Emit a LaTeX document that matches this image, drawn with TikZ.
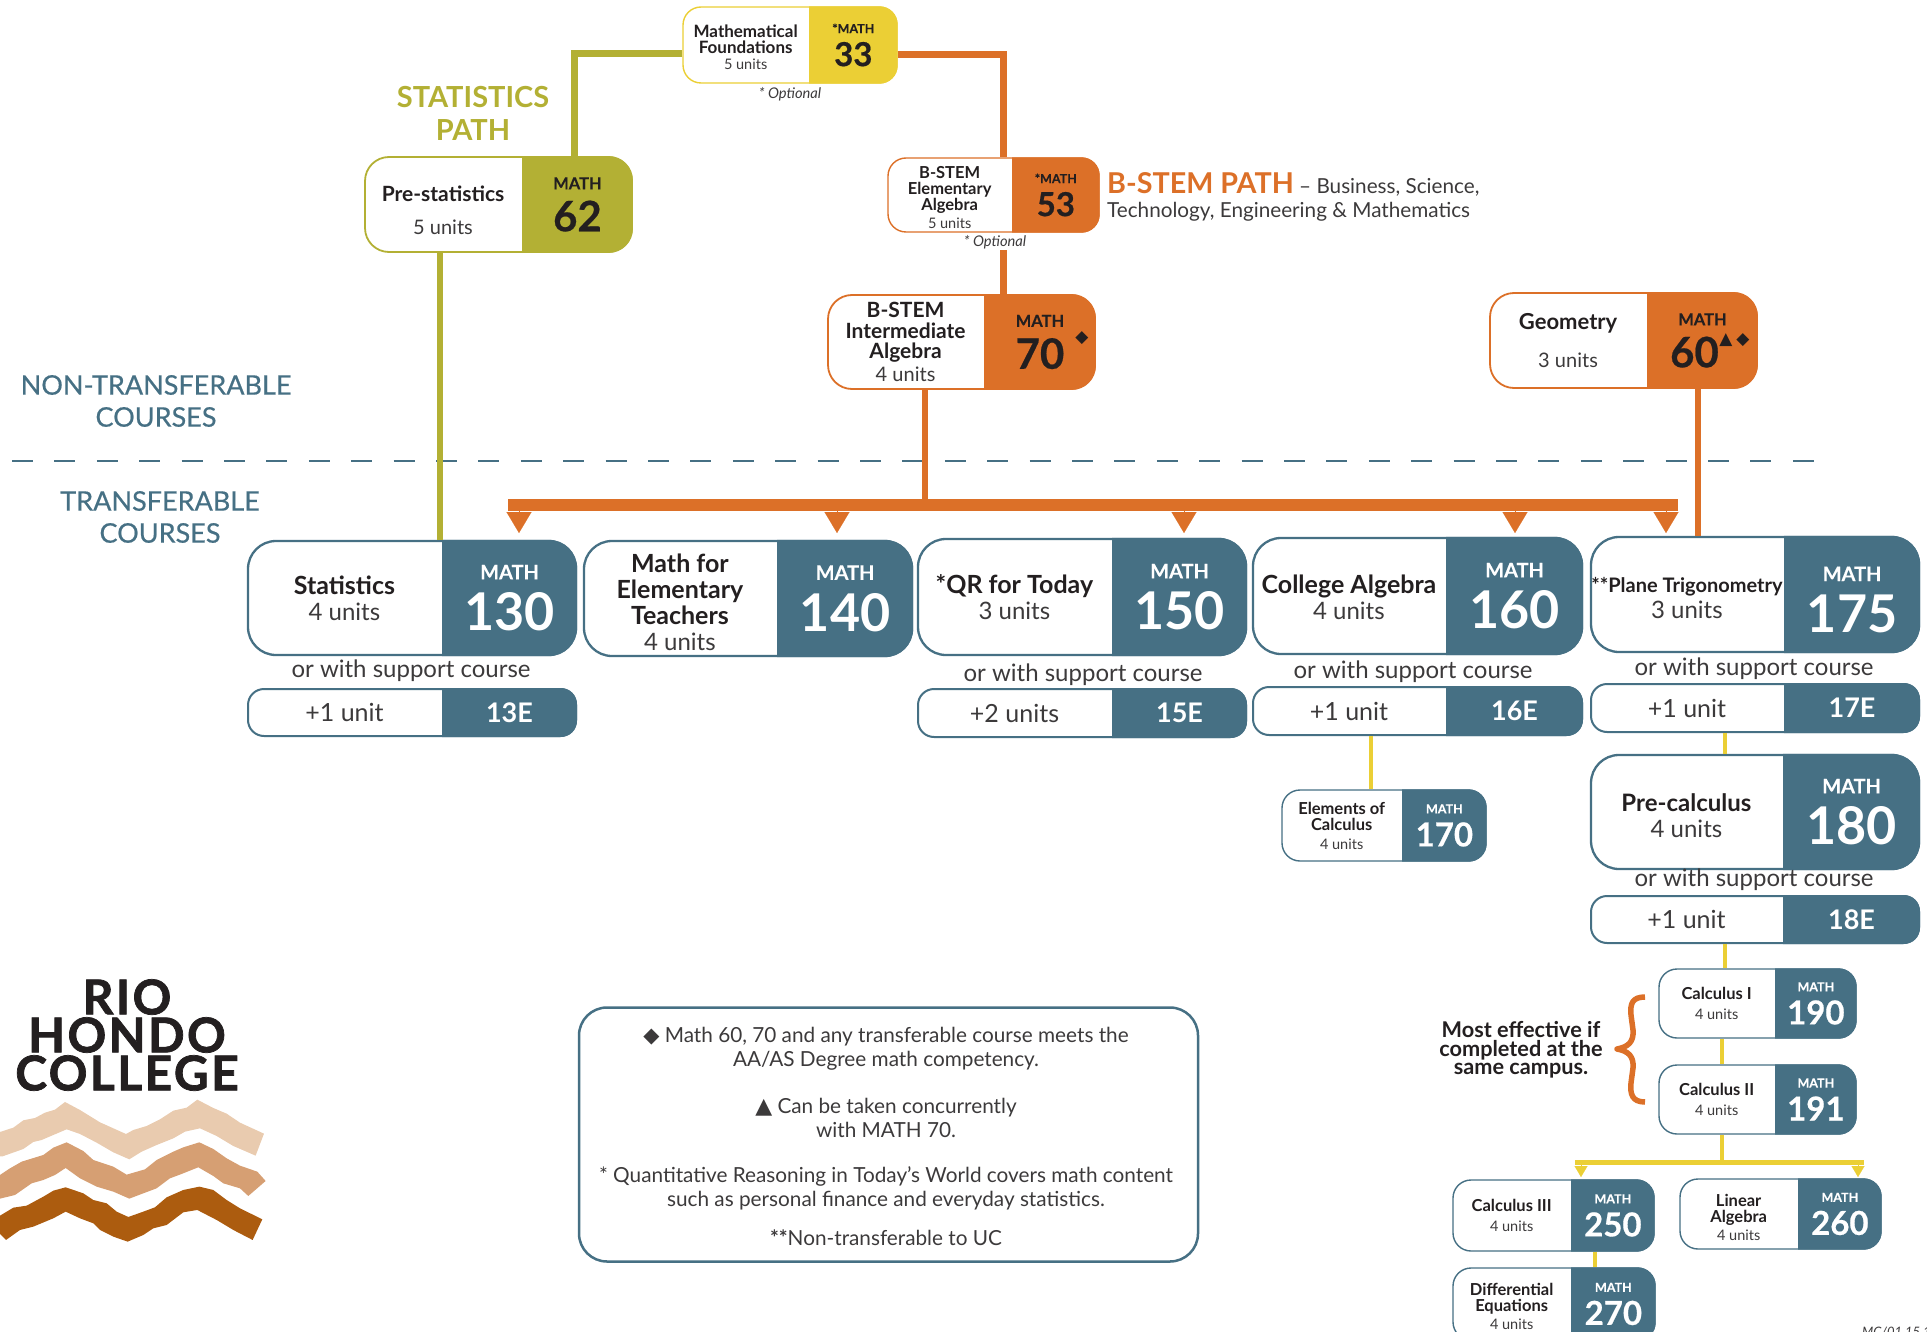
\documentclass[tikz,border=0pt]{standalone}
\usepackage{fontspec}
\setmainfont{Lato}
\newfontfamily\symf{DejaVu Sans}
\newfontfamily\semif[FakeBold=0.1]{Lato}
\newfontfamily\sidef[FakeBold=0.5]{Lato}
\newfontfamily\heavyf[BoldFeatures={FakeBold=0.5}]{Lato}
\newfontfamily\logof[LetterSpace=5,BoldFeatures={FakeBold=1.5}]{Lato}
\usetikzlibrary{calc,fit,positioning,arrows.meta}

\definecolor{stat}{HTML}{B3B034}
\definecolor{stem}{HTML}{DC7028}
\definecolor{found}{HTML}{EBCF35}
\definecolor{trans}{HTML}{467084}
\definecolor{ink}{HTML}{231F20}
\definecolor{greyink}{HTML}{3C3A3B}

\newcommand{\fs}[2]{\fontsize{#1}{#2}\selectfont}
% title, units, head and number fonts of the three sizes of course box
\newcommand{\tbig}{\fs{25}{26}\bfseries}
\newcommand{\ubig}{\fs{24}{26}\mdseries\color{greyink}}
\newcommand{\hbig}{\semif\fs{20}{20}}
\newcommand{\nbig}{\fs{52}{51.5}\bfseries}
\newcommand{\tmid}{\fs{21}{20.5}\bfseries}
\newcommand{\umid}{\fs{20}{21}\mdseries\color{greyink}}
\newcommand{\hmid}{\semif\fs{16.5}{18}}
\newcommand{\nmid}{\heavyf\fs{42}{42}\bfseries}
\newcommand{\tsmall}{\fs{16.5}{16}\bfseries}
\newcommand{\usmall}{\fs{14.5}{16}\mdseries\color{greyink}}
\newcommand{\hsmall}{\semif\fs{12.5}{14}}
\newcommand{\nsmall}{\heavyf\fs{33}{33}\bfseries}
\newcommand{\gap}[1]{\rule{0pt}{#1pt}}

\tikzset{
    coursenode/.style={rectangle,draw,fill=white,inner sep=0pt},
    bigc/.style={rounded corners=28pt,line width=2.3pt},
    midc/.style={rounded corners=24pt,line width=1.8pt},
    smallc/.style={rounded corners=18pt,line width=1.4pt},
    supc/.style={rounded corners=16pt,line width=2pt},
    pathline/.style={line width=7pt},
    thinline/.style={found,line width=4pt},
    otip/.style={stem,line width=0.1pt,-{Triangle[length=21pt,width=25pt]}},
    ytip/.style={found,line width=0.1pt,-{Triangle[length=11pt,width=13pt]}},
    sidelabel/.style={text=trans,align=center,font=\sidef\fs{27}{32}},
    markglyph/.style={text=ink,font=\symf\fs{17}{17}},
    supporttext/.style={text=greyink,font=\fs{24}{24}},
    optional/.style={text=greyink,font=\fs{14.7}{15}\itshape},
    notetext/.style={text=greyink,align=center,font=\fs{20.75}{24}},
}

% colour, name, corner, opposite corner, x of the split, style
\newcommand{\coursebox}[6][trans]{
    \coordinate (#2-a) at (#3);
    \coordinate (#2-b) at (#4);
    \coordinate (#2-s) at (#5,0);
    \node[coursenode,#6,draw=#1,fit=(#2-a)(#2-b)] (#2) {};
    \begin{scope}
        \clip (#2-s |- #2.north) rectangle (#2.south east);
        \fill[#1,#6] (#2.north west) rectangle (#2.south east);
    \end{scope}
}
% text colour, name, size, title, units, head, number
\newcommand{\coursetxt}[7][white]{
    \node[align=center,text=ink,font=\csname t#3\endcsname] (#2-t) at ($(#2.west)!.5!(#2-s |- #2.center)$)
        {#4\\\csname u#3\endcsname #5};
    \node[align=center,text=#1,font=\csname n#3\endcsname] (#2-n) at ($(#2.east)!.5!(#2-s |- #2.center)$)
        {\csname h#3\endcsname #6\\#7};
}
% name, units, number
\newcommand{\supporttxt}[3]{
    \node[text=greyink,font=\fs{25}{26}] (#1-t) at ($(#1.west)!.5!(#1-s |- #1.center)$) {#2};
    \node[text=white,font=\fs{27}{28}\bfseries] (#1-n) at ($(#1.east)!.5!(#1-s |- #1.center)$) {#3};
}

\begin{document}
\begin{tikzpicture}[x=1pt,y=-1pt]
    \useasboundingbox (0,0) rectangle (1927,1332);

    %divider
    \coordinate (divl) at (12,461);
    \coordinate (divr) at (1816,461);
    \draw[trans,line width=2.5pt,dash pattern=on 21pt off 21.4pt] (divl) -- (divr);

    %boxes of the two paths
    \coursebox[found]{m33}{683,7}{897,83}{809}{smallc}
    \coursetxt[ink]{m33}{small}{\gap{18}\fs{17}{16}Mathematical\\\fs{17}{16}Foundations}{5 units}{*MATH}{33}
    \coursebox[stat]{m62}{365,157}{632,252}{522}{midc}
    \coursetxt[ink]{m62}{mid}{\gap{27}Pre-statistics}{\gap{32}5 units}{MATH}{62}
    \coursebox[stem]{m53}{888,158}{1099,232}{1012}{smallc}
    \coursetxt[ink]{m53}{small}{\gap{17}B-STEM\\Elementary\\Algebra}{\gap{14}5 units}{*MATH}{53}
    \coursebox[stem]{m70}{828,295}{1095,389}{984}{midc}
    \coursetxt[ink]{m70}{mid}{B-STEM\\Intermediate\\Algebra}{\gap{18}4 units}{MATH}{70}
    \coursebox[stem]{m60}{1490,293}{1757,388}{1647}{midc}
    \coursetxt[ink]{m60}{mid}{\fs{22}{20}Geometry}{\gap{33}3 units}{MATH}{60\rule{16pt}{0pt}}
    \node[markglyph] (d70) at (1082,338) {◆};
    \node[markglyph] (t60) at (1726,340) {▲};
    \node[markglyph] (d60) at (1743,340) {◆};

    %transferable courses
    \coursebox{m130}{248,541}{576,655}{442}{bigc}
    \coursetxt{m130}{big}{Statistics}{4 units}{MATH}{130}
    \coursebox{m140}{584,541}{912,656}{777}{bigc}
    \coursetxt{m140}{big}{\gap{26}Math for\\Elementary\\Teachers}{4 units}{MATH}{140}
    \coursebox{m150}{918,539}{1246,655}{1112}{bigc}
    \coursetxt{m150}{big}{*QR for Today}{3 units}{MATH}{150}
    \coursebox{m160}{1253,538}{1582,654}{1446}{bigc}
    \coursetxt{m160}{big}{\gap{22}College Algebra}{4 units}{MATH}{160}
    \coursebox{m175}{1591,537}{1919,652}{1784}{bigc}
    \coursetxt{m175}{big}{\gap{23}\fs{20}{26}**Plane Trigonometry}{3 units}{\gap{25}MATH}{175}
    \coursebox{m180}{1591,755}{1919,869}{1783}{bigc}
    \coursetxt{m180}{big}{\gap{26}\fs{24}{26}Pre-calculus}{4 units}{MATH}{180}

    %support courses
    \coursebox{e13}{248,689}{576,736}{442}{supc}
    \supporttxt{e13}{+1 unit}{13E}
    \coursebox{e15}{918,689}{1246,737}{1112}{supc}
    \supporttxt{e15}{+2 units}{15E}
    \coursebox{e16}{1253,687}{1582,735}{1446}{supc}
    \supporttxt{e16}{+1 unit}{16E}
    \coursebox{e17}{1591,684}{1919,732}{1784}{supc}
    \supporttxt{e17}{+1 unit}{17E}
    \coursebox{e18}{1591,896}{1919,943}{1783}{supc}
    \supporttxt{e18}{+1 unit}{18E}
    \node[supporttext] (or130) at (411,671) {or with support course};
    \node[supporttext] (or150) at (1083,675) {or with support course};
    \node[supporttext] (or160) at (1413,672) {or with support course};
    \node[supporttext] (or175) at (1754,669) {or with support course};
    \node[supporttext] (or180) at (1754,880) {or with support course};

    %calculus courses
    \coursebox{m170}{1282,790}{1486,861}{1402}{smallc}
    \coursetxt{m170}{small}{Elements of\\Calculus}{\gap{18}4 units}{MATH}{170}
    \coursebox{m190}{1659,969}{1856,1038}{1775}{smallc}
    \coursetxt{m190}{small}{Calculus I}{\gap{19}4 units}{MATH}{190}
    \coursebox{m191}{1659,1065}{1856,1134}{1775}{smallc}
    \coursetxt{m191}{small}{Calculus II}{\gap{19}4 units}{MATH}{191}
    \coursebox{m250}{1453,1180}{1654,1251}{1571}{smallc}
    \coursetxt{m250}{small}{Calculus III}{\gap{19}4 units}{MATH}{250}
    \coursebox{m260}{1680,1179}{1881,1249}{1798}{smallc}
    \coursetxt{m260}{small}{\gap{19}Linear\\Algebra}{\gap{14}4 units}{MATH}{260}
    \coursebox{m270}{1453,1268}{1655,1340}{1571}{smallc}
    \coursetxt{m270}{small}{\gap{17}Differential\\Equations}{\gap{15}4 units}{MATH}{270}

    %path connectors
    \coordinate (c62) at (574,54);
    \coordinate (c53) at (1003,55);
    \coordinate (c130) at (440,0);
    \coordinate (c70) at (925,0);
    \coordinate (c60) at (1698,0);
    \coordinate (s53) at (1003,250);
    \draw[stat,pathline] (m33.west |- c62) -- (c62) -- (m62.north -| c62);
    \draw[stem,pathline] (m33.east |- c53) -- (c53) -- (m53.north -| c53);
    \draw[stem,pathline] (s53) -- (m70.north -| s53);
    \draw[stat,line width=6pt] (m62.south -| c130) -- (m130.north -| c130);

    %orange bar and its arrows
    \node[fill=stem,inner sep=0pt,minimum width=1170pt,minimum height=12pt] (obar) at (1093,505) {};
    \draw[stem,line width=6pt] (m70.south -| c70) -- (obar.north -| c70);
    \draw[stem,line width=6pt] (m60.south -| c60) -- (m175.north -| c60);
    \foreach \x/\t in {519/m130,837/m140,1184/m150,1515/m160,1666/m175}{
        \coordinate (s\t) at (\x,511);
        \coordinate (e\t) at (\x,533);
        \draw[otip] (s\t) -- (e\t);
    }

    %yellow connectors
    \coordinate (y17) at (1725,0);
    \coordinate (y16) at (1371,0);
    \coordinate (y19) at (1722,0);
    \coordinate (y25) at (1595,0);
    \draw[thinline] (e17.south -| y17) -- (m180.north -| y17);
    \draw[thinline] (e16.south -| y16) -- (m170.north -| y16);
    \draw[thinline] (e18.south -| y17) -- (m190.north -| y17);
    \draw[thinline] (m190.south -| y19) -- (m191.north -| y19);
    \node[fill=found,inner sep=0pt,minimum width=289pt,minimum height=5pt] (ybar) at (1719.5,1162.5) {};
    \draw[thinline] (m191.south -| y19) -- (ybar.north -| y19);
    \draw[thinline] (m250.south -| y25) -- (m270.north -| y25);
    \foreach \x/\t in {1581/m250,1858/m260}{
        \coordinate (s\t) at (\x,1165);
        \coordinate (e\t) at (\x,1177);
        \draw[ytip] (s\t) -- (e\t);
    }

    %brace
    \draw[stem,line width=5.5pt,line join=round] (1645,997) .. controls (1632,997) and (1630,1004) .. (1631,1015)
        -- (1633,1030) .. controls (1634,1042) and (1628,1047) .. (1617,1049)
        .. controls (1628,1051) and (1634,1056) .. (1633,1068)
        -- (1631,1083) .. controls (1630,1094) and (1632,1102) .. (1645,1102);
    \node[text=ink,align=center,font=\fs{21.7}{18.5}\bfseries] (same) at (1521,1050) {Most effective if\\completed at the\\same campus.};

    %labels
    \node[text=stat,align=center,font=\fs{29}{33}\bfseries] (statl) at (473,113) {STATISTICS\\PATH};
    \node[sidelabel] (nont) at (156,401) {NON-TRANSFERABLE\\COURSES};
    \node[sidelabel] (tran) at (160,517) {TRANSFERABLE\\COURSES};
    \node[anchor=west,text=greyink,align=left,font=\fs{20.7}{24},inner sep=0pt] (stemt) at (1107,197)
        {{\fs{28.7}{24}\bfseries\color{stem}B-STEM PATH} – Business, Science,\\Technology, Engineering \& Mathematics};
    \node[optional] (op33) at (790,94) {* Optional};
    \node[optional] (op53) at (995,242) {* Optional};
    \node[text=greyink,font=\fs{13}{14}\itshape,anchor=west,inner sep=0pt] (stamp) at (1862,1332) {MC/01.15.16};

    %notes
    \node[draw=trans,line width=2.5pt,rounded corners=28pt,fill=white,minimum width=619pt,minimum height=254pt] (notes) at (888.5,1134.5) {};
    \node[notetext] (n1) at (886,1049) {{\symf\fs{21}{24}◆} Math 60, 70 and any transferable course meets the\\AA/AS Degree math competency.};
    \node[notetext] (n2) at (886,1118) {{\symf\fs{22}{24}▲} Can be taken concurrently\\with MATH 70.};
    \node[notetext] (n3) at (886,1188) {* Quantitative Reasoning in Today’s World covers math content\\such as personal finance and everyday statistics.};
    \node[notetext] (n4) at (886,1238) {{\bfseries**}Non-transferable to UC};

    %logo
    \node[text=ink,align=center,font=\logof\bfseries\fs{48}{38}] (logo) at (127,1035) {RIO\\HONDO\\COLLEGE};
    \begin{scope}[x=0.3333pt,y=-0.3333pt,yshift=-960pt]
        \fill[fill={rgb,255:red,233;green,203;blue,175}] plot coordinates {(0,516) (40,503) (70,481) (105,474) (135,458) (165,449) (195,426) (240,450) (300,487) (378,522) (400,510) (440,498) (480,478) (520,452) (560,443) (592,419) (640,444) (680,461) (720,488) (792,521) (767,587) (700,558) (650,528) (600,505) (555,515) (520,535) (470,555) (425,575) (388,598) (340,577) (290,548) (240,522) (200,508) (160,525) (125,540) (100,546) (70,567) (8,589) (0,589)};
        \fill[fill={rgb,255:red,214;green,159;blue,115}] plot coordinates {(0,645) (30,625) (65,605) (130,585) (160,563) (200,547) (250,573) (280,600) (340,620) (380,644) (435,628) (470,600) (520,575) (550,562) (598,547) (640,567) (680,595) (720,617) (772,635) (797,663) (745,708) (720,685) (670,670) (640,648) (595,622) (550,640) (510,655) (470,685) (430,700) (388,716) (340,695) (290,680) (240,655) (197,624) (165,645) (130,660) (95,670) (45,705) (0,716)};
        \fill[fill={rgb,255:red,172;green,92;blue,15}] plot coordinates {(0,767) (40,743) (80,737) (130,710) (160,692) (197,682) (250,700) (280,720) (320,730) (350,755) (385,771) (430,755) (465,742) (500,712) (550,690) (598,680) (640,690) (680,720) (720,745) (787,778) (758,840) (700,810) (650,780) (592,750) (550,757) (500,795) (460,805) (430,825) (383,845) (340,830) (300,810) (280,790) (240,775) (197,755) (160,775) (100,800) (60,810) (18,840) (0,822)};
    \end{scope}
\end{tikzpicture}
\end{document}
